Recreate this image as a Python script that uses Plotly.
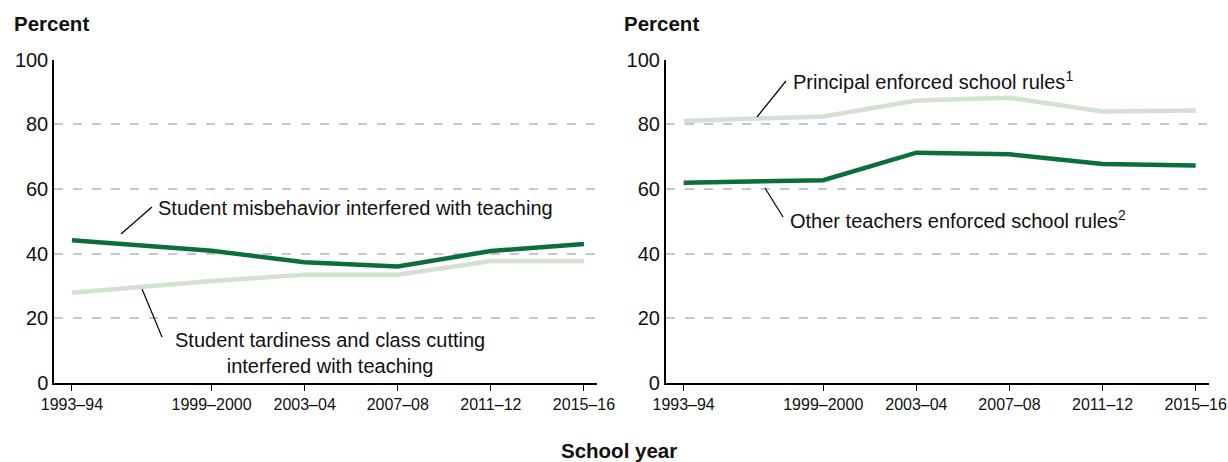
import plotly.graph_objects as go

# ---- data ----
school_years = ["1993–94", "1999–2000", "2003–04", "2007–08", "2011–12", "2015–16"]
start_years = [1993, 1999, 2003, 2007, 2011, 2015]

misbehavior = [44.1, 40.9, 37.3, 36.0, 40.8, 43.0]
tardiness = [27.9, 31.5, 33.5, 33.5, 37.7, 37.7]

principal_enforced = [81.0, 82.4, 87.3, 88.2, 83.9, 84.2]
teachers_enforced = [61.9, 62.7, 71.2, 70.7, 67.7, 67.2]

y_ticks = [0, 20, 40, 60, 80, 100]

DARK = "#0b6e3c"
LIGHT = "#d3e0d2"
FONT = "Liberation Sans, Arial, sans-serif"
W, H = 1228, 462


def px(x):
    return x / W


def py(y):
    return 1 - y / H


fig = go.Figure()
fig.add_trace(go.Scatter(x=start_years, y=tardiness, mode="lines",
                         line=dict(color=LIGHT, width=4.5), xaxis="x", yaxis="y"))
fig.add_trace(go.Scatter(x=start_years, y=misbehavior, mode="lines",
                         line=dict(color=DARK, width=4.5), xaxis="x", yaxis="y"))
fig.add_trace(go.Scatter(x=start_years, y=principal_enforced, mode="lines",
                         line=dict(color=LIGHT, width=4.5), xaxis="x2", yaxis="y2"))
fig.add_trace(go.Scatter(x=start_years, y=teachers_enforced, mode="lines",
                         line=dict(color=DARK, width=4.5), xaxis="x2", yaxis="y2"))

xrange = [1992.23, 2015.56]
xcommon = dict(range=xrange, tickmode="array", tickvals=start_years, ticktext=school_years,
               showgrid=False, zeroline=False, showline=True, linecolor="black", linewidth=1.5,
               ticks="outside", ticklen=6, tickcolor="black", tickwidth=1.2, automargin=False,
               ticklabeloverflow="allow",
               tickfont=dict(family=FONT, size=16, color="#111"))
ycommon = dict(range=[0, 100], tickmode="array", tickvals=y_ticks,
               showgrid=True, gridcolor="#c6c6ce", gridwidth=1.8, griddash="9px,10px",
               zeroline=False, showline=True, linecolor="black", linewidth=1.5, automargin=False,
               ticks="", tickfont=dict(family=FONT, size=20, color="#111"))

ydom = [py(383), py(59.5)]
fig.update_layout(
    template="none",
    width=W, height=H,
    margin=dict(l=0, r=0, t=0, b=0, autoexpand=False),
    paper_bgcolor="white", plot_bgcolor="white",
    showlegend=False,
    xaxis=dict(domain=[px(54), px(597)], anchor="y", **xcommon),
    yaxis=dict(domain=ydom, anchor="x", **ycommon),
    xaxis2=dict(domain=[px(665.7), px(1208.7)], anchor="y2", **xcommon),
    yaxis2=dict(domain=ydom, anchor="x2", **ycommon),
)

ann_font = dict(family=FONT, size=20, color="#111")
bold_font = dict(family=FONT, size=20.5, color="#111")
annotations = [
    dict(text="<b>Percent</b>", x=px(12), y=py(23), xanchor="left", yanchor="middle", font=bold_font),
    dict(text="<b>Percent</b>", x=px(622), y=py(23), xanchor="left", yanchor="middle", font=bold_font),
    dict(text="<b>School year</b>", x=px(619), y=py(450), xanchor="center", yanchor="middle", font=bold_font),
    dict(text="Student misbehavior interfered with teaching", x=px(156), y=py(208),
         xanchor="left", yanchor="middle", font=ann_font),
    dict(text="Student tardiness and class cutting<br>interfered with teaching", x=px(330), y=py(353),
         xanchor="center", yanchor="middle", align="center", font=ann_font),
    dict(text="Principal enforced school rules<sup>1</sup>", x=px(791), y=py(80),
         xanchor="left", yanchor="middle", font=ann_font),
    dict(text="Other teachers enforced school rules<sup>2</sup>", x=px(788), y=py(219),
         xanchor="left", yanchor="middle", font=ann_font),
]
for a in annotations:
    a.update(xref="paper", yref="paper", showarrow=False)
fig.update_layout(annotations=annotations)

leaders = [((121, 234), (152, 207)), ((142, 289), (162, 337)),
           ((757, 117), (786, 81)), ((765, 188), (783, 217))]
for (x0, y0), (x1, y1) in leaders:
    fig.add_shape(type="line", xref="paper", yref="paper",
                  x0=px(x0), y0=py(y0), x1=px(x1), y1=py(y1),
                  line=dict(color="black", width=1.2))

fig.write_html("out.html", config={"displayModeBar": False},
               post_script="document.body.style.margin='0';document.body.style.overflow='hidden';")
